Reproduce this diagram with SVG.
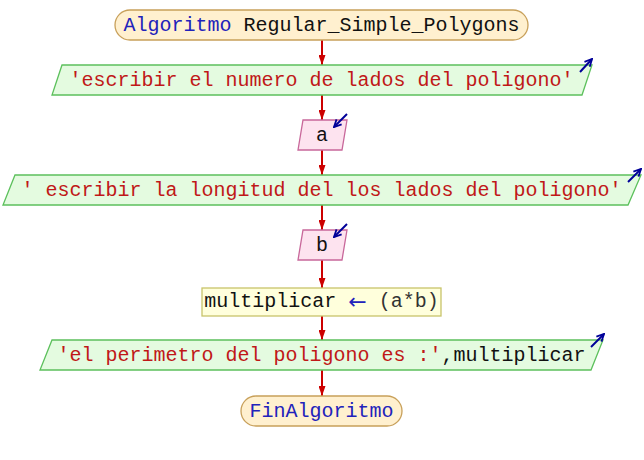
<svg xmlns="http://www.w3.org/2000/svg" width="644" height="460" viewBox="0 0 644 460">
  <defs>
    <marker id="flow" viewBox="0 0 10 7" refX="10" refY="3.5" markerWidth="10" markerHeight="7" markerUnits="userSpaceOnUse" orient="auto">
      <path d="M0,0 L10,3.5 L0,7 Z" fill="#cc0000"/>
    </marker>
    <marker id="io" viewBox="0 0 10 10" refX="9" refY="5" markerWidth="9" markerHeight="9" markerUnits="userSpaceOnUse" orient="auto">
      <path d="M1,1 L9,5 L1,9" fill="none" stroke="#000099" stroke-width="2"/>
    </marker>
    <style>
      .txt { font-family: "Liberation Mono", "DejaVu Sans Mono", monospace; font-size: 20px; text-anchor: middle; dominant-baseline: central; }
      .kw { fill: #2222bb; }
      .op { fill: #2222bb; font-family: "DejaVu Sans", sans-serif; font-size: 22px; }
      .plain { fill: #111111; }
      .str { fill: #c01818; }
      .expr { fill: #333333; }
      .term { fill: #fff0cf; stroke: #c8a05a; stroke-width: 1.3; }
      .out { fill: #e4fbe0; stroke: #5cc05c; stroke-width: 1.3; }
      .in { fill: #fde3ef; stroke: #c8679a; stroke-width: 1.3; }
      .proc { fill: #ffffdc; stroke: #c8c46a; stroke-width: 1.3; }
      .flow { stroke: #cc0000; stroke-width: 2; fill: none; }
      .ioarrow { stroke: #000099; stroke-width: 2; fill: none; }
    </style>
  </defs>

  <!-- flow connectors -->
  <g id="connectors">
    <line class="flow" x1="322" y1="40" x2="322" y2="65" marker-end="url(#flow)"/>
    <line class="flow" x1="322" y1="95" x2="322" y2="120" marker-end="url(#flow)"/>
    <line class="flow" x1="322" y1="150" x2="322" y2="175" marker-end="url(#flow)"/>
    <line class="flow" x1="322" y1="205" x2="322" y2="230" marker-end="url(#flow)"/>
    <line class="flow" x1="322" y1="260" x2="322" y2="288" marker-end="url(#flow)"/>
    <line class="flow" x1="322" y1="316" x2="322" y2="340" marker-end="url(#flow)"/>
    <line class="flow" x1="322" y1="370" x2="322" y2="396" marker-end="url(#flow)"/>
  </g>

  <g id="start">
    <rect class="term" x="115" y="10" width="413" height="30" rx="15" ry="15"/>
    <text class="txt" x="321.5" y="25"><tspan class="kw">Algoritmo</tspan><tspan class="plain"> Regular_Simple_Polygons</tspan></text>
  </g>

  <g id="out1">
    <polygon class="out" points="62,65 592,65 582,95 52,95"/>
    <line class="ioarrow" x1="580" y1="72" x2="592" y2="59" marker-end="url(#io)"/>
    <text class="txt str" x="321.5" y="80">'escribir el numero de lados del poligono'</text>
  </g>

  <g id="in-a">
    <polygon class="in" points="303,120 347,120 342,150 298,150"/>
    <line class="ioarrow" x1="347" y1="114" x2="334" y2="127" marker-end="url(#io)"/>
    <text class="txt plain" x="322" y="135">a</text>
  </g>

  <g id="out2">
    <polygon class="out" points="15,175 641,175 628,205 3,205"/>
    <line class="ioarrow" x1="628" y1="182" x2="641" y2="169" marker-end="url(#io)"/>
    <text class="txt str" x="321.5" y="190">' escribir la longitud del los lados del poligono'</text>
  </g>

  <g id="in-b">
    <polygon class="in" points="303,230 347,230 342,260 298,260"/>
    <line class="ioarrow" x1="347" y1="224" x2="334" y2="237" marker-end="url(#io)"/>
    <text class="txt plain" x="322" y="245">b</text>
  </g>

  <g id="assign">
    <rect class="proc" x="202" y="288" width="239" height="28"/>
    <text class="txt" x="321.5" y="301"><tspan class="plain">multiplicar </tspan><tspan class="op">←</tspan><tspan class="expr"> (a*b)</tspan></text>
  </g>

  <g id="out3">
    <polygon class="out" points="52,340 603,340 591,370 40,370"/>
    <line class="ioarrow" x1="591" y1="347" x2="604" y2="334" marker-end="url(#io)"/>
    <text class="txt" x="321.5" y="355"><tspan class="str">'el perimetro del poligono es :'</tspan><tspan class="plain">,multiplicar</tspan></text>
  </g>

  <g id="end">
    <rect class="term" x="241" y="396" width="161" height="30" rx="15" ry="15"/>
    <text class="txt kw" x="321.5" y="411">FinAlgoritmo</text>
  </g>
</svg>
